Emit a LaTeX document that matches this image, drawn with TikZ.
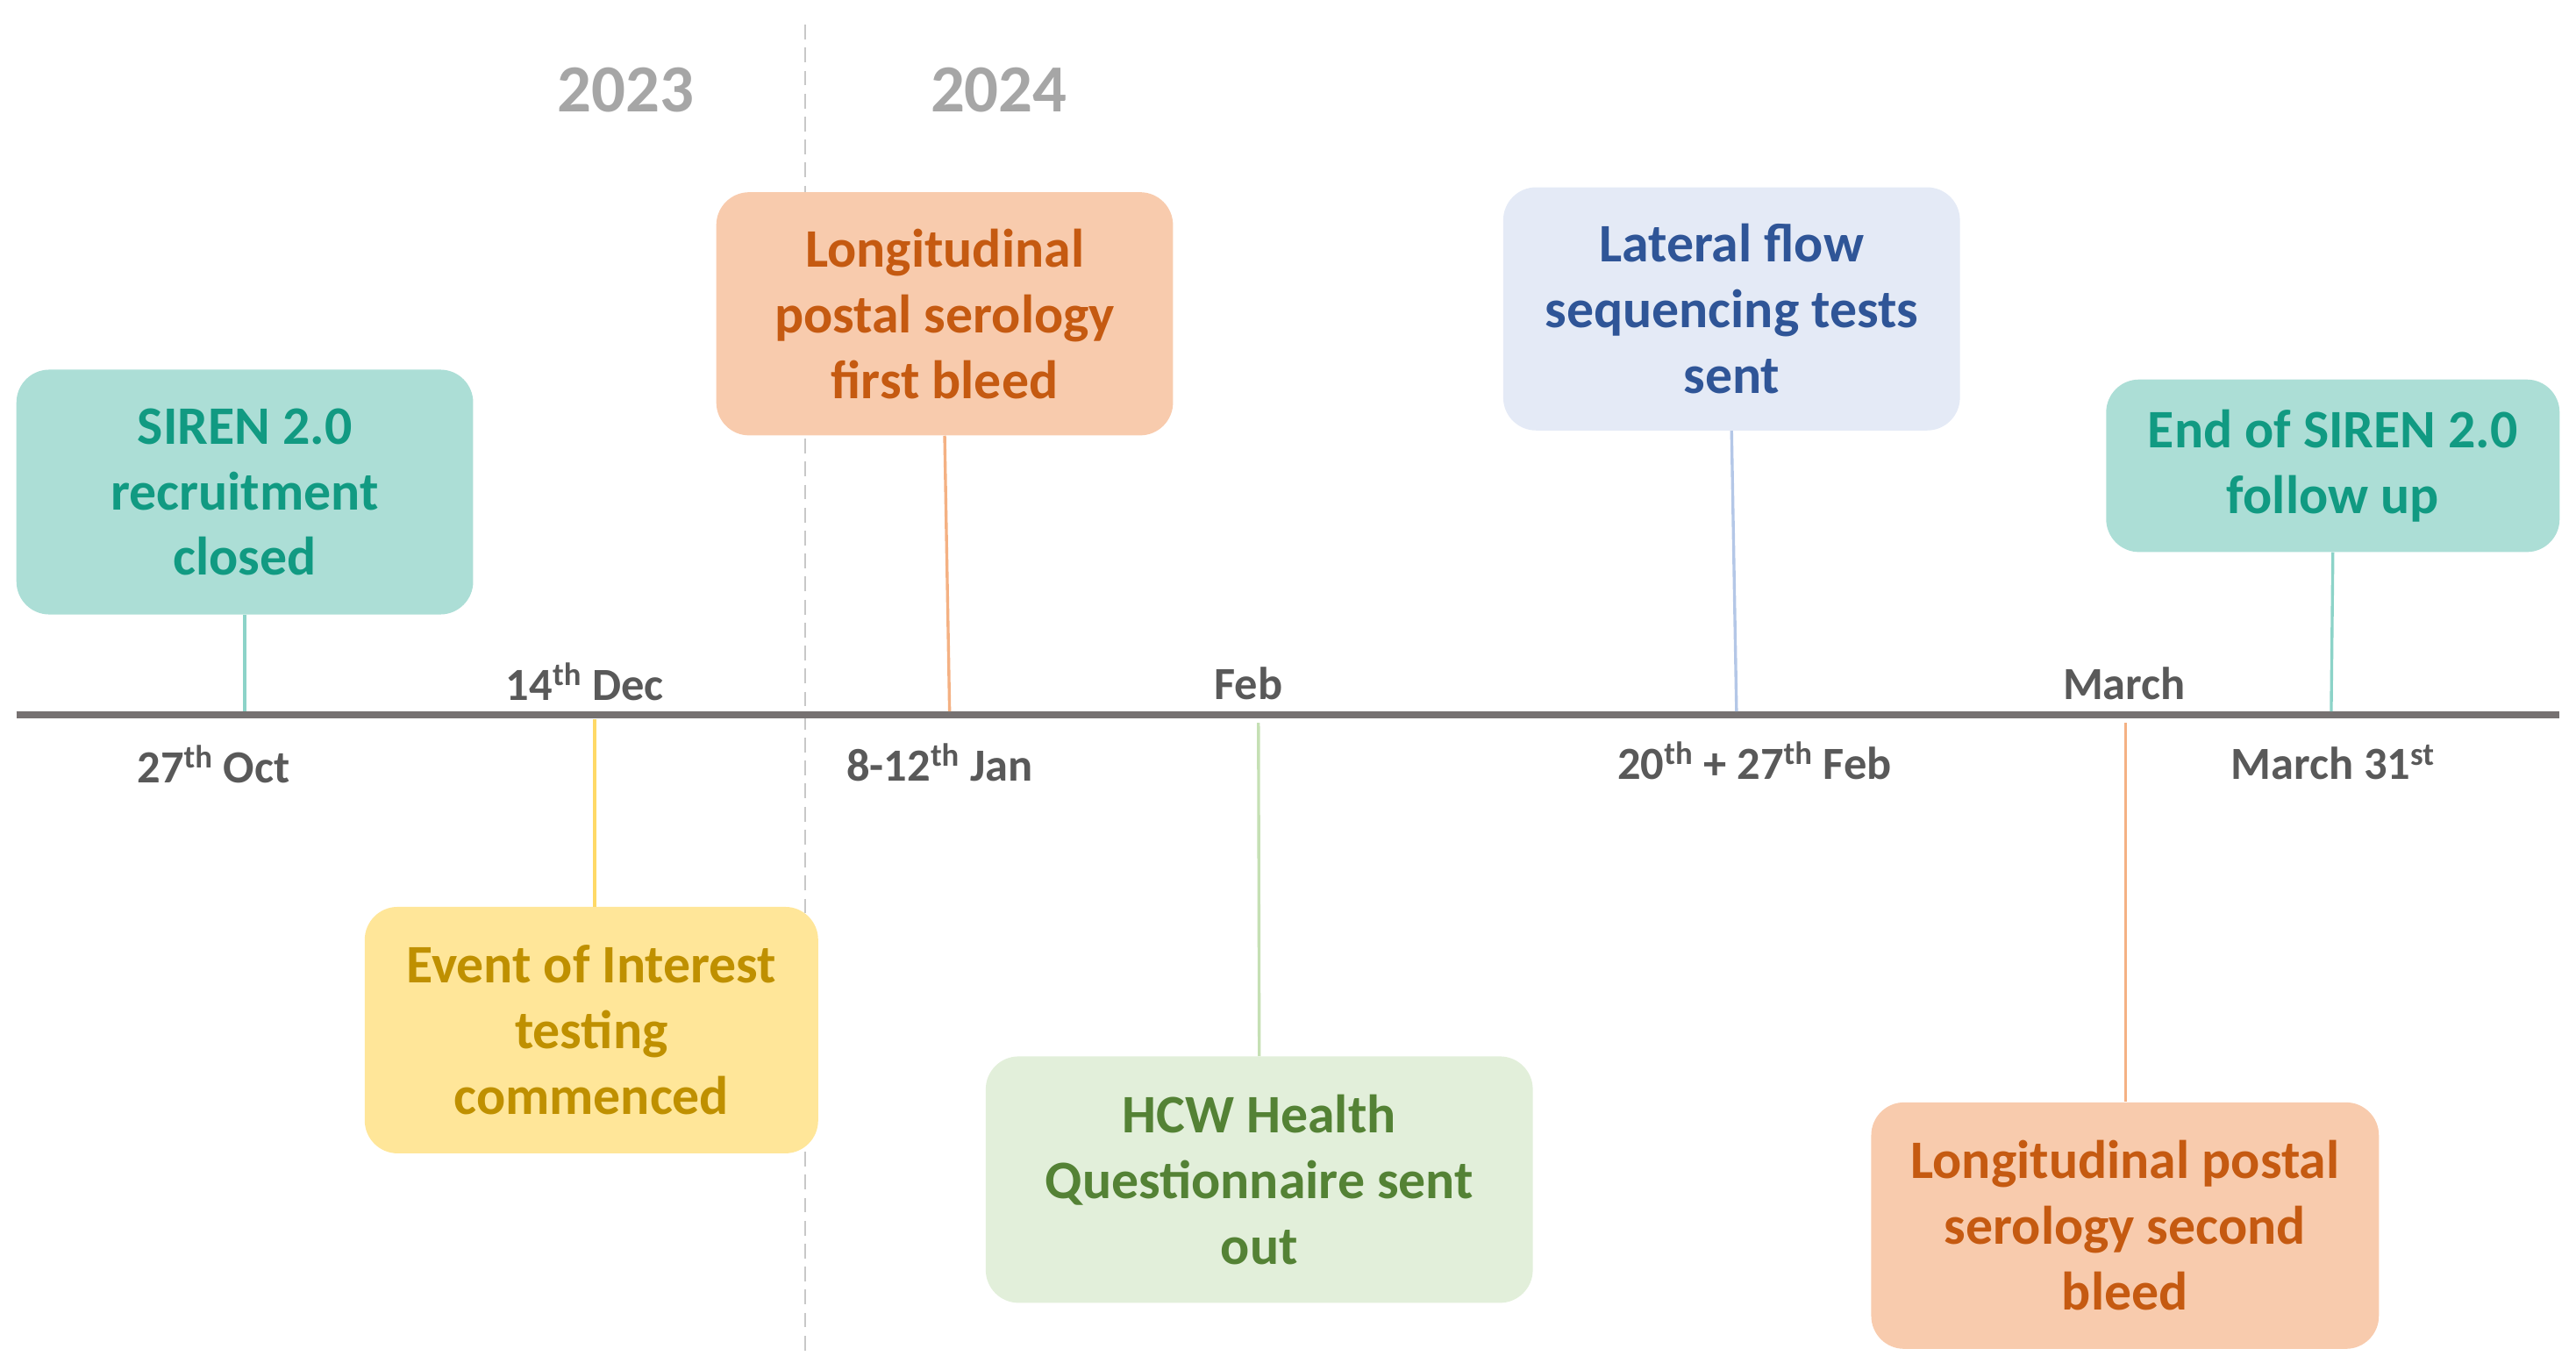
\documentclass[tikz,border=0pt]{standalone}
\usepackage{fontspec}
\setmainfont{Carlito}
\definecolor{tealfill}{RGB}{172,222,214}
\definecolor{tealtext}{RGB}{17,154,130}
\definecolor{tealline}{RGB}{140,211,200}
\definecolor{orfill}{RGB}{248,203,173}
\definecolor{ortext}{RGB}{197,90,17}
\definecolor{orline}{RGB}{244,177,131}
\definecolor{yefill}{RGB}{255,230,153}
\definecolor{yetext}{RGB}{191,144,0}
\definecolor{yeline}{RGB}{255,217,102}
\definecolor{grfill}{RGB}{226,239,218}
\definecolor{grtext}{RGB}{84,130,53}
\definecolor{grline}{RGB}{197,224,180}
\definecolor{blfill}{RGB}{228,234,246}
\definecolor{bltext}{RGB}{47,85,151}
\definecolor{blline}{RGB}{180,199,231}
\definecolor{axisgray}{RGB}{118,113,113}
\definecolor{labgray}{RGB}{89,89,89}
\definecolor{yeargray}{RGB}{166,166,166}
\definecolor{dashgray}{RGB}{200,200,200}
\tikzset{
  evbox/.style={rounded corners=20pt, inner sep=0pt, align=center,
    font=\fontsize{33}{40}\selectfont\bfseries},
  datelab/.style={text=labgray, inner sep=0pt, font=\fontsize{28}{32}\selectfont\bfseries},
  yearlab/.style={text=yeargray, inner sep=0pt, font=\fontsize{41}{48}\selectfont\bfseries},
  conn/.style={line width=1.8pt}
}
\begin{document}
\begin{tikzpicture}[x=1pt,y=-1pt]
\useasboundingbox (0,0) rectangle (1568,825);
% year divider
\coordinate (dtop) at (490,15);
\coordinate (dbot) at (490,825);
\draw[dashgray, line width=1.3pt, dash pattern=on 9pt off 5pt] (dtop) -- (dbot);
\node[yearlab] (y23) at (381,55) {2023};
\node[yearlab] (y24) at (608,55) {2024};
% timeline
\coordinate (tl) at (10,435);
\coordinate (tr) at (1558,435);
\draw[axisgray, line width=4.5pt] (tl) -- (tr);
% anchor points on the timeline
\coordinate (p1) at (149,433);
\coordinate (p2) at (362,438);
\coordinate (p3) at (578,433);
\coordinate (p4) at (766,440);
\coordinate (p5) at (1057,433);
\coordinate (p6) at (1294,440);
\coordinate (p7) at (1419,433);
% boxes
\node[evbox, fill=tealfill, text=tealtext, minimum width=278pt, minimum height=149pt] (siren) at (149,299.5) {SIREN 2.0\\recruitment\\closed};
\node[evbox, fill=orfill, text=ortext, minimum width=278pt, minimum height=148pt] (first) at (575,191) {Longitudinal\\postal serology\\first bleed};
\node[evbox, fill=blfill, text=bltext, minimum width=278pt, minimum height=148pt] (lat) at (1054,188) {Lateral flow\\sequencing tests\\sent};
\node[evbox, fill=tealfill, text=tealtext, minimum width=276pt, minimum height=105pt] (endb) at (1420,283.5) {End of SIREN 2.0\\follow up};
\node[evbox, fill=yefill, text=yetext, minimum width=276pt, minimum height=150pt] (eoi) at (360,627) {Event of Interest\\testing\\commenced};
\node[evbox, fill=grfill, text=grtext, minimum width=333pt, minimum height=150pt] (hcw) at (766.5,718) {HCW Health\\Questionnaire sent\\out};
\node[evbox, fill=orfill, text=ortext, minimum width=309pt, minimum height=150pt] (second) at (1293.5,746) {Longitudinal postal\\serology second\\bleed};
% connectors
\draw[conn, tealline] (siren.south) -- (p1);
\draw[conn, orline] (first.south) -- (p3);
\draw[conn, blline] (lat.south) -- (p5);
\draw[conn, tealline] (endb.south) -- (p7);
\draw[conn, yeline] (p2) -- (eoi.north -| p2);
\draw[conn, grline] (p4) -- (hcw.north);
\draw[conn, orline] (p6) -- (second.north -| p6);
% date labels
\node[datelab] (d1) at (130,465) {27\textsuperscript{th} Oct};
\node[datelab] (d2) at (356,415) {14\textsuperscript{th} Dec};
\node[datelab] (d3) at (572,464) {8-12\textsuperscript{th} Jan};
\node[datelab] (d4) at (760,416) {Feb};
\node[datelab] (d5) at (1068,463) {20\textsuperscript{th} + 27\textsuperscript{th} Feb};
\node[datelab] (d6) at (1293,416) {March};
\node[datelab] (d7) at (1420,464) {March 31\textsuperscript{st}};
\end{tikzpicture}
\end{document}
